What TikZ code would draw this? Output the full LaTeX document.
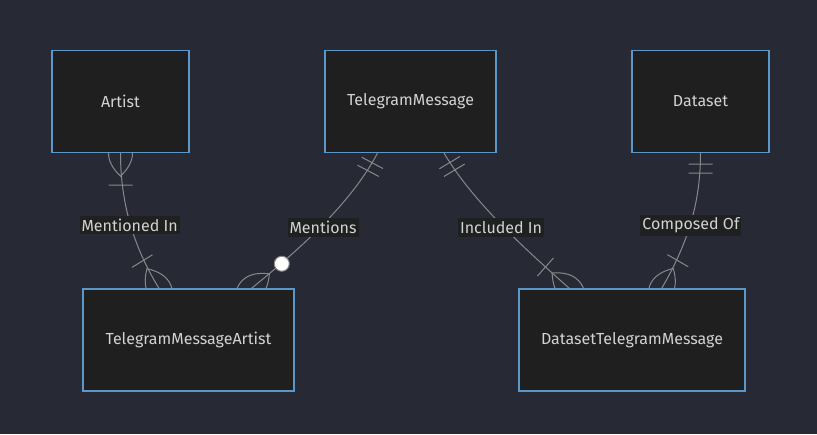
\documentclass[tikz,border=0pt]{standalone}
\usepackage{fontspec}
\setmainfont{Fira Sans}
\usetikzlibrary{decorations.markings}
\definecolor{bgcol}{HTML}{272A35}
\definecolor{boxfill}{HTML}{1F1F1F}
\definecolor{boxline}{HTML}{5B97C9}
\definecolor{txtcol}{HTML}{D2D2D2}
\definecolor{edgecol}{HTML}{888888}
\definecolor{lblfill}{HTML}{1F2020}
\newcommand\erfont{\fontsize{16}{19}\selectfont}
\newcommand\erlens{\draw[rel] (23,0) .. controls (7.7,16) and (-7.7,16) .. (-23,0) .. controls (-7.7,-16) and (7.7,-16) .. cycle;}
\pgfdeclarelayer{canvas}
\pgfdeclarelayer{back}
\pgfsetlayers{canvas,back,main}
\tikzset{
  entity/.style={draw=boxline,fill=boxfill,line width=1.3pt,text=txtcol,minimum height=102pt,font=\erfont},
  rel/.style={draw=edgecol,line width=1pt},
  lbl/.style={fill=lblfill,text=txtcol,inner xsep=2pt,inner ysep=3pt,yshift=-3pt,font=\erfont},
  one start/.style={postaction={decorate,decoration={markings,mark=at position 0 with {\draw[rel] (11,-12) -- (11,12) (20,-12) -- (20,12);}}}},
  many start/.style={postaction={decorate,decoration={markings,mark=at position 0 with {\erlens \draw[rel] (32,-12) -- (32,12);}}}},
  many end/.style={postaction={decorate,decoration={markings,mark=at position 0.9999 with {\erlens \draw[rel] (-32,-12) -- (-32,12);}}}},
  zero many end/.style={postaction={decorate,decoration={markings,mark=at position 0.9999 with {\erlens \draw[rel,fill=white] (-39,0) circle (7.5pt);}}}}
}
\begin{document}
\begin{tikzpicture}[x=1pt,y=-1pt]
  \begin{pgfonlayer}{canvas}
    \fill[bgcol] (0,0) rectangle (817,434);
  \end{pgfonlayer}
  \useasboundingbox (0,0) rectangle (817,434);
  \node[entity,minimum width=137pt] (artist) at (120.5,101.5) {Artist};
  \node[entity,minimum width=171pt] (tgmsg) at (410.5,101.5) {TelegramMessage};
  \node[entity,minimum width=137pt] (dataset) at (700.5,101.5) {Dataset};
  \node[entity,minimum width=211pt] (tgmsgartist) at (188.5,340) {TelegramMessageArtist};
  \node[entity,minimum width=226pt] (dstgmsg) at (632,340) {DatasetTelegramMessage};
  \begin{pgfonlayer}{back}
    \draw[rel,many start,many end] (artist.south) .. controls +(0,47) and +(-27,-44) .. node[lbl,pos=.5] {Mentioned In} ([xshift=-29.5pt]tgmsgartist.north);
    \draw[rel,one start,zero many end] ([xshift=-33pt]tgmsg.south) .. controls +(-26.5,50) and +(49.2,-40) .. node[lbl,pos=.5] {Mentions} ([xshift=63pt]tgmsgartist.north);
    \draw[rel,one start,many end] ([xshift=33.5pt]tgmsg.south) .. controls +(30,50) and +(-44.8,-40) .. node[lbl,pos=.5] {Included In} ([xshift=-62.7pt]dstgmsg.north);
    \draw[rel,one start,many end] (dataset.south) .. controls +(0,50) and +(26.1,-45) .. node[lbl,pos=.5] {Composed Of} ([xshift=29.7pt]dstgmsg.north);
  \end{pgfonlayer}
\end{tikzpicture}
\end{document}
